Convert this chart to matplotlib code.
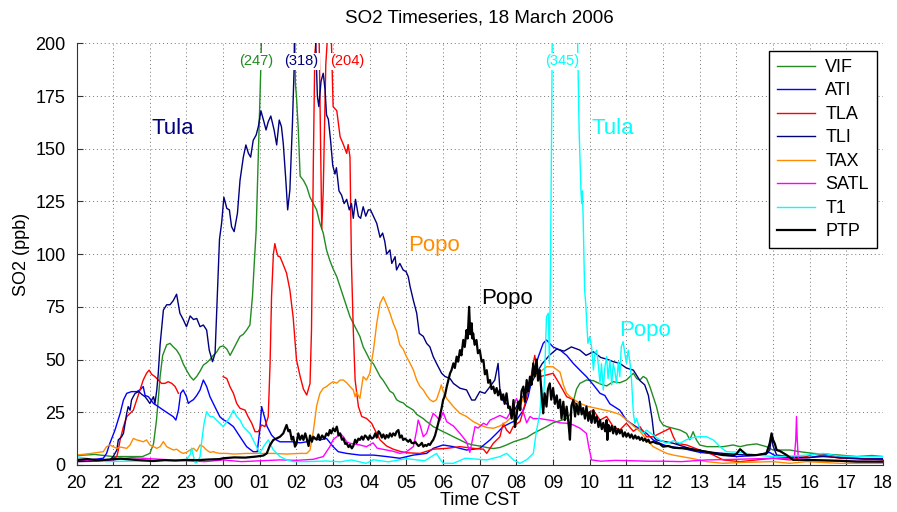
import numpy as np
import matplotlib
matplotlib.use("Agg")
import matplotlib.pyplot as plt

plt.rcParams["font.family"] = ["Liberation Sans", "DejaVu Sans"]

# time in clock hours from 20:00 on 17 March (24 = 00:00, 42 = 18:00), SO2 in ppb
vif = [(20.0, 4.5), (20.5, 5), (21.0, 4), (21.5, 4), (21.8, 4), (22.0, 5.5), (22.1, 10), (22.18, 21),
       (22.23, 31), (22.28, 42), (22.35, 52), (22.46, 57), (22.55, 57.7), (22.64, 56), (22.73, 54.5),
       (22.82, 52), (22.91, 48), (23.0, 45), (23.1, 42), (23.19, 40.3), (23.28, 42), (23.37, 44.5),
       (23.46, 47.4), (23.55, 48.5), (23.64, 50), (23.73, 52), (23.82, 53.5), (23.91, 56), (24.0, 56.5),
       (24.1, 55), (24.19, 52), (24.28, 55), (24.37, 58), (24.46, 61), (24.55, 62), (24.64, 64),
       (24.73, 66.4), (24.8, 80), (24.85, 96), (24.9, 111), (24.98, 159), (25.03, 190), (25.06, 215),
       (25.3, 240), (25.5, 247), (25.8, 235), (25.95, 210), (25.97, 181), (26.0, 174.7), (26.05, 159),
       (26.1, 137), (26.19, 135), (26.28, 132), (26.37, 127), (26.46, 124), (26.55, 121), (26.64, 114.6),
       (26.73, 110), (26.82, 102), (26.91, 97), (27.0, 93), (27.1, 89.3), (27.19, 84.6), (27.28, 79.8),
       (27.37, 75), (27.46, 70.3), (27.55, 67.2), (27.64, 64), (27.73, 61), (27.82, 56), (27.91, 53),
       (28.0, 49.8), (28.1, 48), (28.19, 45), (28.28, 42), (28.37, 40), (28.46, 37.5), (28.55, 35),
       (28.64, 34), (28.73, 31), (28.82, 30), (28.91, 29.5), (29.0, 28), (29.1, 27), (29.19, 26),
       (29.28, 24), (29.37, 23), (29.46, 22), (29.55, 20.6), (29.64, 19.5), (29.73, 18.2), (29.82, 17.5),
       (29.91, 16.6), (30.0, 15.8), (30.1, 15), (30.28, 13.4), (30.46, 11.9), (30.64, 10.3), (30.82, 9.5),
       (31.0, 9), (31.19, 8.3), (31.37, 7.8), (31.55, 8.3), (31.73, 9.5), (31.92, 11), (32.1, 12),
       (32.28, 13), (32.46, 15), (32.64, 16.6), (32.82, 18.2), (33.0, 20), (33.19, 21), (33.37, 22),
       (33.46, 24), (33.55, 30), (33.64, 36), (33.73, 38.7), (33.91, 40.3), (34.1, 40), (34.28, 38.5),
       (34.46, 37.5), (34.64, 39.5), (34.82, 39), (35.0, 40.3), (35.19, 43.5), (35.28, 41), (35.37, 40.3),
       (35.46, 42), (35.55, 41), (35.64, 37.2), (35.73, 32.4), (35.82, 27.7), (35.91, 21.3), (36.0, 19),
       (36.1, 18.2), (36.28, 17.4), (36.46, 16.6), (36.64, 15), (36.73, 12), (36.82, 15.8), (36.91, 11.9),
       (37.0, 9.5), (37.19, 8.7), (37.64, 8.7), (37.91, 9.5), (38.1, 8.7), (38.3, 9.5), (38.55, 10),
       (38.82, 8.7), (39.0, 7.1), (39.46, 7.1), (39.73, 6.3), (40.1, 5.5), (40.82, 4.7), (41.28, 4),
       (41.7, 4.5), (42.0, 4)]

ati = [(20.0, 2.4), (20.4, 2.5), (20.73, 3.2), (20.82, 5.5), (20.91, 10.3), (21.05, 16.6), (21.19, 24.5),
       (21.28, 30.8), (21.37, 34), (21.5, 34.8), (21.64, 34.8), (21.73, 35.6), (21.82, 37.2), (21.87, 33),
       (21.96, 32.4), (22.1, 29.2), (22.23, 27.7), (22.37, 26), (22.5, 24.5), (22.64, 22.9), (22.71, 21.3),
       (22.78, 26), (22.84, 34), (22.91, 35.6), (23.0, 32.4), (23.05, 29.2), (23.1, 30), (23.19, 31),
       (23.28, 33), (23.37, 35.6), (23.46, 40.3), (23.55, 37.2), (23.64, 32.4), (23.73, 29.2), (23.82, 26),
       (23.91, 22.9), (24.0, 21.5), (24.1, 20.6), (24.28, 18.2), (24.46, 13.4), (24.64, 8.7), (24.82, 6.3),
       (24.93, 6.3), (25.0, 16.6), (25.05, 27.7), (25.1, 24.5), (25.2, 18.2), (25.32, 14.2), (25.45, 11.9),
       (25.55, 11), (25.91, 11), (26.1, 10.5), (26.28, 11), (26.46, 12.6), (26.64, 11.9), (26.82, 12.6),
       (27.0, 8.7), (27.14, 6.3), (27.37, 5.5), (27.73, 4.7), (28.1, 4.7), (28.46, 4), (28.82, 3.2),
       (29.19, 4.7), (29.55, 5.5), (29.73, 7.9), (30.0, 9.5), (30.28, 8.7), (30.64, 7.1), (31.0, 7.9),
       (31.28, 11.9), (31.46, 15), (31.64, 18.2), (31.82, 19.8), (32.0, 21.3), (32.19, 26), (32.32, 32.4),
       (32.46, 43.5), (32.6, 51.4), (32.73, 57.7), (32.82, 59.3), (33.0, 56), (33.19, 54.5), (33.37, 52),
       (33.55, 48.2), (33.73, 45), (33.91, 41.9), (34.1, 38), (34.28, 34), (34.41, 33), (34.55, 29),
       (34.82, 26), (35.0, 21.3), (35.19, 19), (35.37, 17), (35.55, 15), (35.73, 11.9), (35.91, 10.3),
       (36.1, 9), (36.5, 8), (37.0, 6), (37.5, 5), (38.0, 4), (38.5, 4.5), (38.9, 6), (39.1, 4),
       (39.5, 3.5), (40.0, 3.5), (40.5, 5), (41.0, 3.5), (41.5, 3), (42.0, 3)]

tla = [(20.0, 2.4), (20.5, 2.6), (20.91, 2.4), (21.1, 4), (21.14, 7), (21.19, 11.9), (21.28, 18.2),
       (21.37, 22.9), (21.46, 24.5), (21.55, 26), (21.64, 30.8), (21.73, 35.6), (21.82, 40.3), (21.91, 43.5),
       (21.98, 45), (22.05, 43), (22.14, 41.9), (22.23, 40.3), (22.32, 38.7), (22.41, 38.7), (22.5, 39.5),
       (22.6, 38.7), (22.69, 37.2), (22.78, 34), (22.8, np.nan), (24.0, 41.9), (24.1, 41), (24.19, 37),
       (24.28, 34), (24.37, 29.2), (24.46, 26.9), (24.6, 26), (24.68, 22.9), (24.78, 19.8), (24.87, 15.8),
       (24.96, 15.8), (25.05, 19), (25.14, 18.2), (25.23, 22.9), (25.28, 48.2), (25.32, 79.8), (25.37, 100),
       (25.41, 105), (25.46, 101), (25.5, 99), (25.55, 98.8), (25.64, 95), (25.73, 91), (25.82, 83),
       (25.91, 70), (26.0, 50), (26.1, 42), (26.19, 36), (26.28, 33.2), (26.37, 38.7), (26.41, 64),
       (26.46, 143), (26.5, 195), (26.55, 204), (26.62, 200), (26.66, 150), (26.69, 112), (26.73, 130),
       (26.8, 190), (26.85, 204), (26.95, 203), (27.0, 170), (27.1, 168), (27.19, 155.7), (27.28, 152),
       (27.37, 147.8), (27.41, 152), (27.46, 146), (27.5, 95.6), (27.55, 64), (27.6, 40.3), (27.69, 27.7),
       (27.78, 23), (27.91, 22.1), (28.05, 19.8), (28.14, 16.6), (28.28, 11.9), (28.46, 9), (28.64, 7.5),
       (28.82, 6.5), (29.0, 5.8), (29.37, 5.5), (29.73, 7.5), (30.1, 7.9), (30.46, 8.7), (30.82, 7.9),
       (31.1, 7.5), (31.19, 5.5), (31.37, 10.3), (31.55, 13.4), (31.64, 19.8), (31.73, 16.6), (31.82, 15),
       (31.91, 18.2), (32.1, 20.6), (32.19, 26), (32.28, 32.4), (32.37, 38.7), (32.46, 48.2), (32.5, 52),
       (32.55, 46.6), (32.64, 41.9), (32.82, 42.7), (33.0, 43.5), (33.19, 38), (33.37, 32.4), (33.55, 31),
       (33.73, 26), (33.91, 24.5), (34.1, 26), (34.28, 21.3), (34.46, 23), (34.64, 18.2), (34.82, 16.6),
       (35.0, 19.8), (35.19, 16), (35.37, 18.2), (35.55, 13.4), (35.73, 13.4), (35.91, 15), (36.1, 16.6),
       (36.19, 17.4), (36.28, 13.4), (36.37, 10.3), (36.64, 9.5), (37.0, 7.1), (37.28, 5.5), (37.64, 2.4),
       (38.1, 1.6), (38.55, 2.4), (39.0, 3.2), (39.46, 2.4), (39.91, 4), (40.1, 5.2), (40.4, 4.5),
       (40.82, 3.2), (41.73, 2.8), (42.0, 2.4)]

tli = [(20.0, 1.6), (20.5, 1.8), (20.91, 2.4), (21.0, 4), (21.1, 7.1), (21.14, 11.9), (21.23, 13.4),
       (21.28, 15), (21.37, 24.5), (21.41, 27.7), (21.46, 26), (21.5, 30.8), (21.55, 32.5), (21.6, 34),
       (21.7, 34.8), (21.78, 33.5), (21.87, 32.4), (21.93, 31), (22.0, 29.2), (22.1, 32.4), (22.14, 29.2),
       (22.19, 35.6), (22.23, 43.5), (22.28, 57), (22.37, 73.5), (22.46, 76), (22.55, 76), (22.64, 78),
       (22.73, 81), (22.82, 72), (22.91, 69), (23.0, 65.6), (23.1, 70.7), (23.19, 69), (23.28, 69.5),
       (23.37, 65.6), (23.46, 66.4), (23.55, 64), (23.62, 54.5), (23.71, 49), (23.78, 53), (23.84, 80),
       (23.9, 107), (23.96, 115), (24.02, 127), (24.1, 121.7), (24.17, 121), (24.23, 113), (24.3, 110.7),
       (24.39, 119.4), (24.46, 135), (24.55, 146), (24.62, 151.8), (24.69, 147.8), (24.75, 146), (24.82, 154),
       (24.9, 156.5), (24.96, 160.5), (25.03, 168), (25.1, 163.6), (25.17, 158.9), (25.23, 162.8),
       (25.3, 165.5), (25.39, 158.9), (25.46, 151.8), (25.53, 163.6), (25.59, 160.5), (25.64, 152.5),
       (25.71, 135), (25.76, 121), (25.82, 130.4), (25.89, 162), (25.94, 190.5), (25.97, 318), (26.1, 280),
       (26.3, 250), (26.5, 215), (26.57, 175), (26.61, 170), (26.67, 182), (26.73, 185.8), (26.78, 178),
       (26.82, 166), (26.87, 164), (26.93, 154), (26.99, 142), (27.05, 138), (27.09, 141), (27.16, 130),
       (27.23, 128), (27.3, 124), (27.37, 126), (27.44, 121), (27.5, 124), (27.55, 117), (27.61, 126),
       (27.69, 118), (27.75, 117), (27.82, 122.5), (27.89, 118), (27.96, 121), (28.02, 121), (28.1, 118),
       (28.19, 114.6), (28.28, 108), (28.35, 110), (28.41, 106), (28.46, 100), (28.55, 102), (28.6, 95.6),
       (28.69, 98.8), (28.73, 92.5), (28.82, 95.6), (28.91, 92.5), (28.99, 91.7), (29.05, 89.3),
       (29.1, 84.6), (29.19, 78), (29.28, 72), (29.35, 62.4), (29.46, 61), (29.55, 57.7), (29.64, 56),
       (29.73, 51.4), (29.82, 48.2), (29.96, 43.5), (30.05, 42), (30.19, 41), (30.28, 38.7), (30.46, 36.4),
       (30.64, 35.6), (30.78, 30.8), (30.87, 30.8), (31.0, 34.8), (31.14, 34), (31.28, 37.2), (31.41, 40.3),
       (31.5, 48.2), (31.55, 35.6), (31.62, 30.8), (31.73, 29.2), (31.82, 26.9), (31.91, 24.5), (32.0, 27.7),
       (32.1, 30.8), (32.3, 35), (32.5, 42), (32.7, 48), (32.9, 52), (33.1, 55), (33.3, 54), (33.5, 56),
       (33.73, 54.5), (33.9, 52), (34.1, 53.7), (34.3, 51), (34.5, 50), (34.64, 49), (34.82, 48.2),
       (35.0, 46), (35.19, 45), (35.37, 40), (35.5, 38), (35.6, 33), (35.7, 22), (35.76, 13), (35.82, 11.9),
       (36.28, 10.3), (36.7, 8), (37.19, 6.3), (37.64, 5.5), (38.3, 4.7), (38.8, 5), (38.91, 7.1),
       (38.96, 13.4), (39.0, 9), (39.1, 4.7), (39.46, 4), (39.9, 3.5), (40.37, 4), (40.8, 3.5), (41.5, 2.8),
       (42.0, 2.8)]

tax = [(20.0, 4.7), (20.4, 5.5), (20.73, 6.3), (20.82, 8.7), (20.91, 9.5), (21.0, 8.7), (21.1, 7.9),
       (21.2, 8.5), (21.37, 7.9), (21.46, 9.5), (21.55, 12.6), (21.64, 11.9), (21.73, 11.5), (21.82, 11),
       (21.91, 11.9), (22.0, 9.5), (22.1, 8.7), (22.19, 7.9), (22.28, 8.7), (22.37, 11.1), (22.46, 8.7),
       (22.55, 7.9), (22.64, 7.1), (22.73, 7.5), (22.82, 6.3), (22.91, 5.5), (23.0, 6), (23.1, 7.1),
       (23.19, 7.9), (23.28, 6.5), (23.37, 9.5), (23.46, 8.7), (23.55, 7.1), (23.64, 6), (23.73, 6.3),
       (23.82, 5.8), (23.91, 5.5), (24.1, 5.5), (24.3, 5.2), (24.64, 5.5), (25.0, 5.5), (25.37, 5.5),
       (25.73, 5.2), (26.1, 5.5), (26.28, 5.5), (26.37, 7.1), (26.46, 16), (26.55, 28), (26.64, 34),
       (26.73, 36.4), (26.82, 37.2), (26.91, 38.5), (27.0, 39.5), (27.1, 38.8), (27.19, 40.3), (27.28, 40.3),
       (27.37, 39), (27.46, 37.2), (27.55, 35.6), (27.6, 32.4), (27.64, 34.5), (27.73, 31.6), (27.82, 41.9),
       (27.91, 40.3), (28.0, 43.5), (28.1, 54.5), (28.19, 67.2), (28.28, 76.7), (28.37, 79.8), (28.46, 76),
       (28.55, 72), (28.64, 67.2), (28.73, 63.5), (28.82, 57), (28.91, 55), (29.0, 51.4), (29.1, 48.2),
       (29.19, 45), (29.28, 40.3), (29.37, 37.2), (29.46, 35.6), (29.55, 33), (29.64, 31), (29.73, 30),
       (29.82, 31), (29.91, 35.6), (29.95, 38), (30.0, 35), (30.1, 31.5), (30.28, 27.7), (30.46, 24.5),
       (30.64, 23), (30.82, 20.6), (31.0, 19), (31.19, 17.8), (31.37, 17.4), (31.55, 18.5), (31.73, 20.5),
       (31.91, 23.5), (32.1, 27.7), (32.28, 36.4), (32.46, 41.9), (32.64, 44), (32.82, 46.6), (33.0, 46.6),
       (33.19, 44), (33.28, 38), (33.37, 34), (33.46, 32.4), (33.73, 29.2), (33.97, 27.7), (34.28, 26.5),
       (34.55, 25.5), (34.82, 24), (35.0, 21.5), (35.19, 18.5), (35.37, 16), (35.55, 11.9), (35.73, 8.7),
       (35.91, 7.1), (36.1, 5.5), (36.28, 4.7), (36.82, 3), (37.19, 1.6), (37.64, 0.8), (38.1, 1.2),
       (39.0, 1.6), (39.46, 0.8), (39.91, 1.6), (40.82, 0.8), (42.0, 0.8)]

satl = [(20.0, 2.4), (20.5, 2), (21.0, 2.4), (21.5, 3.5), (22.0, 3), (22.5, 2.5), (23.0, 2), (23.5, 1.6),
        (24.0, 2.4), (24.5, 1.6), (25.0, 2), (25.55, 2.4), (26.0, 2.2), (26.46, 2.7), (26.73, 4),
        (26.91, 8.7), (27.0, 12), (27.1, 13.4), (27.19, 15), (27.28, 13.4), (27.37, 11), (27.46, 10.3),
        (27.55, 10), (27.73, 9.5), (27.91, 8.7), (28.09, 10.5), (28.2, 8), (28.46, 7.1), (28.64, 6.5),
        (28.82, 5.5), (29.0, 6.3), (29.19, 8.7), (29.28, 16.6), (29.32, 21.3), (29.37, 19), (29.46, 13.4),
        (29.55, 15), (29.64, 20), (29.73, 24.5), (29.82, 23), (29.91, 21), (30.0, 25), (30.1, 20.5),
        (30.28, 18.5), (30.46, 15), (30.64, 11), (30.73, 6), (30.78, 10.3), (30.87, 18.2), (30.95, 17.5),
        (31.1, 19.8), (31.19, 19), (31.28, 21.3), (31.37, 22), (31.55, 23.5), (31.73, 22), (31.91, 27),
        (32.0, 31.5), (32.1, 28), (32.19, 25), (32.28, 20), (32.37, 23), (32.46, 22), (32.64, 22),
        (32.82, 21.5), (33.0, 21), (33.19, 20), (33.37, 19.8), (33.55, 19), (33.73, 17.5), (33.91, 15),
        (33.98, 8), (34.05, 2.4), (34.3, 1.8), (34.7, 2.2), (35.19, 2), (35.6, 1.8), (36.0, 1.8),
        (36.5, 1.6), (37.19, 2.4), (38.0, 2.7), (39.0, 3.2), (39.58, 3), (39.62, 12), (39.64, 23),
        (39.66, 12), (39.69, 3), (40.0, 2.4), (40.82, 1.9), (42.0, 1.6)]

t1 = [(20.0, 4), (20.27, 3.2), (20.45, 2.4), (20.82, 1.6), (21.37, 1.8), (22.1, 1.9), (22.64, 2.4),
      (23.0, 2.6), (23.1, 5), (23.14, 8), (23.19, 4), (23.24, 1), (23.3, 1.5), (23.37, 4), (23.42, 11.9),
      (23.48, 19.8), (23.55, 25.3), (23.64, 23), (23.73, 22.9), (23.82, 21.3), (23.91, 19.8), (24.0, 18.2),
      (24.1, 20.5), (24.19, 22.9), (24.28, 26), (24.37, 23), (24.46, 21.3), (24.55, 18.2), (24.64, 16.6),
      (24.73, 15), (24.82, 11.9), (24.91, 8.7), (25.0, 5.5), (25.1, 8.7), (25.23, 11.9), (25.37, 7.1),
      (25.55, 4), (25.73, 2.4), (25.91, 1.6), (26.3, 1.6), (26.82, 1.9), (27.2, 1.5), (27.5, 2.4),
      (27.9, 0.8), (28.1, 2.5), (28.5, 1.5), (29.0, 3), (29.5, 2), (29.82, 5.5), (29.9, 3.2), (30.0, 0.8),
      (30.28, 0.8), (30.6, 3.2), (31.19, 2.4), (31.55, 4), (31.73, 5.5), (31.92, 2.4), (32.1, 0.8),
      (32.28, 2.5), (32.46, 5.5), (32.55, 16.6), (32.64, 24.5), (32.69, 37), (32.73, 25), (32.78, 48.2),
      (32.82, 70.3), (32.87, 72), (32.9, 48), (32.93, 95.6), (32.96, 159), (32.98, 210), (33.2, 300),
      (33.35, 345), (33.5, 300), (33.66, 210), (33.71, 159), (33.76, 130.4), (33.78, 124), (33.8, 130),
      (33.82, 117.8), (33.86, 83), (33.89, 76.7), (33.93, 64), (33.95, 57.7), (34.0, 60.9), (34.05, 56),
      (34.1, 45), (34.14, 53), (34.19, 54.5), (34.23, 48.2), (34.28, 38.7), (34.32, 48), (34.37, 35.6),
      (34.41, 46), (34.46, 51.4), (34.5, 41), (34.55, 49.8), (34.6, 38), (34.64, 48.2), (34.69, 44),
      (34.73, 38.7), (34.78, 49), (34.82, 41.9), (34.86, 56), (34.91, 58.5), (34.95, 54), (35.0, 48.2),
      (35.05, 54.5), (35.1, 48), (35.14, 40.3), (35.19, 24.5), (35.23, 19.8), (35.28, 22), (35.37, 16.6),
      (35.46, 15), (35.55, 16.5), (35.73, 14.2), (35.91, 11.9), (36.1, 10.3), (36.28, 11.5), (36.46, 10.3),
      (36.64, 12), (36.82, 13), (37.0, 13.5), (37.19, 13.4), (37.37, 11.9), (37.55, 8.7), (37.73, 6.3),
      (38.1, 6), (38.55, 4.7), (39.0, 4), (39.46, 4.2), (39.91, 4.7), (40.37, 5.5), (40.82, 4.2),
      (41.28, 4), (42.0, 4)]

ptp = [(20.0, 2.4), (20.3, 2.8), (20.6, 2.2), (20.9, 2.6), (21.2, 3), (21.5, 2.6), (21.8, 2.2), (22.1, 1.9),
       (22.4, 2.3), (22.7, 2.1), (23.0, 2.4), (23.3, 2.3), (23.6, 2.6), (23.9, 2.8), (24.0, 3.2), (24.3, 3.6),
       (24.6, 3.5), (24.9, 4), (25.1, 4.5), (25.19, 5.5), (25.28, 9.5), (25.37, 11.9), (25.46, 12.6),
       (25.55, 13.4), (25.64, 15), (25.73, 19), (25.78, 16), (25.82, 16.6), (25.87, 12), (25.91, 13.4),
       (25.96, 8.7), (26.0, 10), (26.05, 15), (26.1, 12), (26.15, 14), (26.19, 11.9), (26.24, 15),
       (26.28, 12.5), (26.33, 9), (26.37, 14), (26.42, 11), (26.46, 13.4), (26.55, 12), (26.6, 14.5),
       (26.64, 11.9), (26.7, 14), (26.76, 12.5), (26.82, 15), (26.87, 14), (26.91, 16.6), (26.95, 15),
       (27.0, 17.4), (27.05, 16), (27.1, 18.2), (27.15, 14), (27.19, 15), (27.24, 12), (27.28, 12.6),
       (27.33, 10), (27.37, 10.3), (27.42, 8.5), (27.46, 9.5), (27.51, 7.9), (27.55, 9), (27.6, 12),
       (27.64, 10.5), (27.69, 12.5), (27.73, 11.9), (27.78, 13.5), (27.82, 12), (27.87, 14), (27.91, 13.4),
       (27.96, 12), (28.0, 14), (28.05, 12.5), (28.1, 13), (28.15, 15), (28.19, 13), (28.24, 16), (28.28, 15),
       (28.33, 13), (28.37, 14.5), (28.42, 12.5), (28.46, 14.2), (28.51, 13), (28.55, 15), (28.6, 13.5),
       (28.64, 15), (28.69, 14), (28.73, 15.8), (28.78, 16.6), (28.82, 13), (28.87, 14), (28.91, 11.9),
       (28.96, 12.5), (29.0, 11.9), (29.05, 11), (29.1, 12), (29.14, 10.5), (29.19, 10.3), (29.24, 11),
       (29.28, 10), (29.33, 9), (29.37, 9.5), (29.42, 10.5), (29.46, 8.7), (29.51, 9.5), (29.55, 9),
       (29.6, 10), (29.64, 9.5), (29.69, 11), (29.73, 11.9), (29.78, 14), (29.82, 16.6), (29.87, 20),
       (29.91, 23), (29.96, 27), (30.0, 30.8), (30.05, 33), (30.1, 37.2), (30.14, 40), (30.19, 43.5),
       (30.23, 45), (30.28, 48.2), (30.32, 46), (30.37, 51.4), (30.41, 49), (30.46, 54.5), (30.5, 52),
       (30.55, 59.3), (30.59, 56), (30.64, 64), (30.67, 60), (30.71, 75), (30.74, 62), (30.78, 67.2),
       (30.8, 60), (30.82, 62.4), (30.86, 57), (30.91, 59.3), (30.95, 53), (31.0, 54.5), (31.05, 49),
       (31.1, 49.8), (31.14, 43), (31.19, 45), (31.23, 39), (31.28, 40.3), (31.32, 36), (31.37, 37.2),
       (31.41, 34), (31.46, 36.5), (31.5, 33), (31.55, 35.6), (31.59, 31), (31.64, 33.5), (31.68, 29),
       (31.73, 34), (31.78, 27), (31.82, 27.7), (31.87, 22), (31.92, 30.8), (31.96, 18), (32.0, 23),
       (32.05, 30), (32.1, 26), (32.14, 35), (32.19, 37.2), (32.23, 30), (32.28, 40.3), (32.32, 35),
       (32.37, 41.9), (32.41, 38), (32.46, 48.2), (32.5, 42), (32.55, 50), (32.59, 40), (32.64, 45),
       (32.68, 35), (32.73, 24.5), (32.77, 34), (32.82, 27.7), (32.86, 36), (32.91, 38.7), (32.95, 31),
       (33.0, 36.5), (33.05, 29), (33.1, 33), (33.14, 27), (33.19, 31), (33.23, 22), (33.28, 30),
       (33.32, 21.3), (33.37, 27.7), (33.42, 20), (33.46, 12), (33.5, 28), (33.55, 30.8), (33.6, 23),
       (33.64, 29), (33.69, 24), (33.73, 30), (33.78, 24), (33.82, 27), (33.87, 22), (33.91, 27.7),
       (33.96, 21), (34.0, 25), (34.05, 20), (34.1, 26), (34.14, 20), (34.19, 23), (34.24, 18), (34.28, 21.3),
       (34.33, 17), (34.37, 20), (34.42, 16), (34.46, 21.3), (34.48, 11.9), (34.51, 19), (34.55, 16),
       (34.6, 18.5), (34.64, 15), (34.69, 18.2), (34.73, 14.5), (34.78, 17), (34.82, 15), (34.87, 16.6),
       (34.91, 13.5), (34.96, 15.5), (35.0, 13.4), (35.05, 15), (35.1, 13), (35.14, 14.5), (35.19, 12.5),
       (35.24, 14), (35.28, 12.5), (35.33, 13.4), (35.37, 11.9), (35.42, 13), (35.46, 11.5), (35.51, 12.5),
       (35.55, 11), (35.6, 12), (35.64, 10.5), (35.73, 11), (35.82, 10.3), (35.91, 10), (36.0, 8.7),
       (36.14, 9), (36.28, 8.2), (36.46, 8), (36.64, 7.9), (36.82, 7.2), (37.0, 6.8), (37.19, 6.3),
       (37.4, 5.5), (37.64, 4.7), (37.91, 4.5), (38.0, 5.2), (38.1, 7.5), (38.2, 6), (38.28, 4.7),
       (38.55, 4.7), (38.82, 5.5), (38.91, 10.3), (38.96, 15), (39.0, 12), (39.05, 10), (39.1, 7.1),
       (39.2, 6.5), (39.37, 4.7), (39.55, 2.4), (39.91, 2.4), (40.37, 2.2), (40.82, 2), (41.28, 1.6),
       (42.0, 1.6)]

stations = ["VIF", "ATI", "TLA", "TLI", "TAX", "SATL", "T1", "PTP"]
series = [vif, ati, tla, tli, tax, satl, t1, ptp]
colors = ["#228B22", "#0000FF", "#FF0000", "#000080", "#FF8C00", "#FF00FF", "#00FFFF", "#000000"]

hours = list(range(20, 43))
hour_labels = ["%02d" % (h % 24) for h in hours]

# (text, x, y, color, size, white box behind)
notes = [("Tula", 22.62, 159.7, "#000080", 16, False), ("(247)", 24.91, 191.5, "#228B22", 10.5, True),
         ("(318)", 26.13, 191.5, "#000080", 10.5, True), ("(204)", 27.39, 191.5, "#FF0000", 10.5, True),
         ("Popo", 29.75, 104.3, "#FF8C00", 16, False), ("Popo", 31.75, 79, "#000000", 16, False),
         ("(345)", 33.25, 191.5, "#00FFFF", 10.5, True), ("Tula", 34.64, 159.7, "#00FFFF", 16, False),
         ("Popo", 35.5, 64, "#00FFFF", 16, False)]

fig = plt.figure(figsize=(8.97, 5.12), dpi=100)
ax = fig.add_axes([0.0853, 0.0918, 0.8991, 0.8236])

for name, data, c in zip(stations, series, colors):
    t, v = zip(*data)
    lw = 1.6 if name == "PTP" else 1.0
    ax.plot(t, v, color=c, lw=lw, label=name)

for txt, x, y, c, s, boxed in notes:
    box = dict(facecolor="white", edgecolor="none", pad=1.0) if boxed else None
    ax.text(x, y, txt, color=c, fontsize=s, ha="center", va="center", bbox=box, zorder=5)

ax.set_xlim(20, 42)
ax.set_ylim(0, 200)
ax.set_xticks(hours)
ax.set_xticklabels(hour_labels)
ax.set_yticks(np.arange(0, 201, 25))
ax.tick_params(direction="in", labelsize=13, length=4, colors="#333333", labelcolor="black")
ax.tick_params(axis="x", pad=7)
ax.tick_params(axis="y", pad=8)
ax.grid(True, linestyle=(0, (1, 3)), color="0.45", lw=0.7)
ax.spines["top"].set_visible(False)
ax.spines["right"].set_visible(False)
ax.spines["left"].set_color("#333333")
ax.spines["bottom"].set_color("#333333")

ax.set_title("SO2 Timeseries, 18 March 2006", fontsize=13.5, pad=15)
ax.set_xlabel("Time CST", fontsize=13, labelpad=0)
ax.set_ylabel("SO2 (ppb)", fontsize=13, labelpad=4)

leg = ax.legend(loc="upper right", bbox_to_anchor=(877 / 897, 1 - 50.7 / 512),
                bbox_transform=fig.transFigure, borderaxespad=0, fontsize=13,
                fancybox=False, framealpha=1, edgecolor="black", handlelength=2.1,
                handletextpad=0.6, labelspacing=0.36, borderpad=0.45)
leg.get_frame().set_linewidth(1.0)

plt.savefig("out.png", dpi=100)
